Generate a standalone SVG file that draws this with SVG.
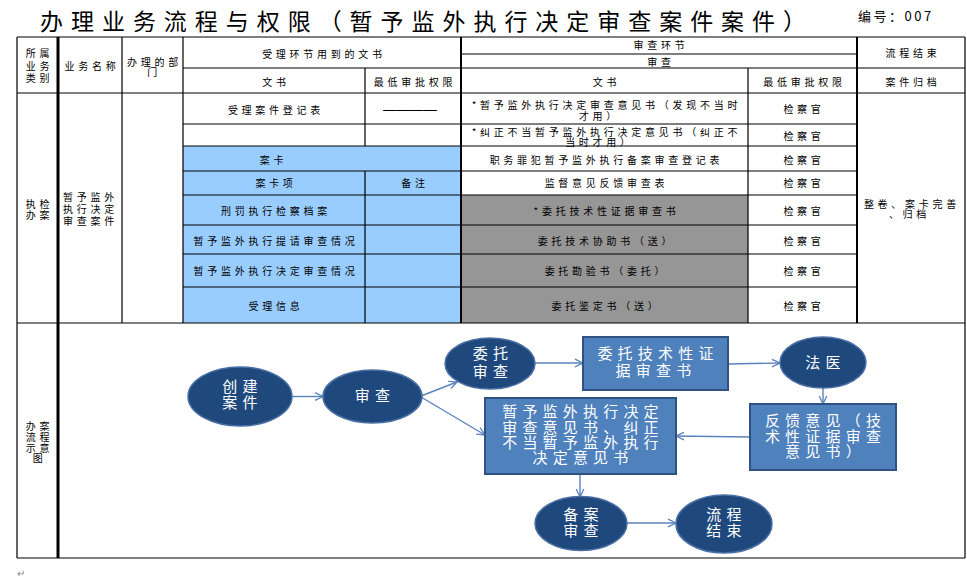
<svg xmlns="http://www.w3.org/2000/svg" width="967" height="583" viewBox="0 0 967 583">
<style>
text{font-family:"Noto Sans CJK SC","Noto Sans",sans-serif;}
.t{font-size:10px;letter-spacing:3.75px;text-anchor:middle;fill:#000;}
.tl{font-size:10px;letter-spacing:3.75px;fill:#000;}
.g{stroke:#000;stroke-width:1.2;fill:none;}
.gt{stroke:#000;stroke-width:2;fill:none;}
.gk{stroke:#000;stroke-width:3;fill:none;}
.el{fill:#1F497D;stroke:#4A6FA5;stroke-width:1.5;}
.bx{fill:#4F81BD;stroke:#2F5283;stroke-width:2;}
.w{font-size:15px;letter-spacing:5.2px;text-anchor:middle;fill:#fff;}
.cn{stroke:#5B82BC;stroke-width:1.4;fill:none;marker-end:url(#ah);}
</style>
<defs>
<marker id="ah" markerWidth="10" markerHeight="10" refX="9" refY="5" orient="auto" markerUnits="userSpaceOnUse">
<path d="M1,1.2 L9,5 L1,8.8" fill="none" stroke="#5B82BC" stroke-width="1.3"/>
</marker>
</defs>
<rect width="967" height="583" fill="#fff"/>

<g id="title">
<text x="40" y="30" font-size="23" textLength="766" lengthAdjust="spacing">办理业务流程与权限（暂予监外执行决定审查案件案件）</text>
<text x="858" y="21" font-size="13" letter-spacing="2.5">编号：007</text>
</g>

<g id="table">
<rect x="183" y="146" width="278" height="177" fill="#99CCFF"/>
<rect x="461" y="195" width="287" height="128" fill="#969696"/>
<path class="g" d="M17,37H965 M461,54H857 M183,68H965 M17,93H965 M183,124H857 M183,146H857 M183,171H857 M183,195H857 M183,225H857 M183,254H857 M183,287H857 M17,323H965 M17,558H965"/>
<path class="g" d="M17,37V558 M122,37V323 M183,37V323 M365,68V146 M365,171V323 M748,68V323 M965,37V558"/>
<path class="gt" d="M461,37V323 M857,37V323"/>
<path class="gk" d="M58,37V558"/>

<g id="header">
<text class="t" x="39.5" y="57">所属</text>
<text class="t" x="39.5" y="69.5">业务</text>
<text class="t" x="39.5" y="82">类别</text>
<text class="t" x="92" y="70">业务名称</text>
<text class="t" x="154.5" y="65.5">办理的部</text>
<text class="t" x="154" y="76">门</text>
<text class="t" x="324" y="58">受理环节用到的文书</text>
<text class="t" x="276" y="85.5">文书</text>
<text class="t" x="415" y="85.5">最低审批权限</text>
<text class="t" x="661" y="48.5">审查环节</text>
<text class="t" x="661" y="65.5">审查</text>
<text class="t" x="606.5" y="85.5">文书</text>
<text class="t" x="804.5" y="85.5">最低审批权限</text>
<text class="t" x="913" y="56.5">流程结束</text>
<text class="t" x="913" y="85.5">案件归档</text>
</g>

<g id="body">
<text class="t" x="39.5" y="208">执检</text>
<text class="t" x="39.5" y="219">办案</text>
<text class="tl" x="63" y="200.5">暂予监外</text>
<text class="tl" x="63" y="212.5">执行决定</text>
<text class="tl" x="63" y="224.5">审查案件</text>

<text class="t" x="276" y="113.5">受理案件登记表</text>
<text x="410" y="114" font-size="13.5" text-anchor="middle" style="font-family:'Liberation Sans',sans-serif">————</text>
<text class="t" x="606.5" y="108.5">*暂予监外执行决定审查意见书（发现不当时</text>
<text class="t" x="599.5" y="119.5">才用）</text>
<text class="t" x="606.5" y="136">*纠正不当暂予监外执行决定意见书（纠正不</text>
<text class="t" x="599.5" y="145.5">当时才用）</text>

<text class="t" x="273.5" y="163.5">案卡</text>
<text class="t" x="606.5" y="163.5">职务罪犯暂予监外执行备案审查登记表</text>
<text class="t" x="276" y="186.5">案卡项</text>
<text class="t" x="415" y="186.5">备注</text>
<text class="t" x="606.5" y="186.5">监督意见反馈审查表</text>
<text class="t" x="276" y="215">刑罚执行检察档案</text>
<text class="t" x="606.5" y="215">*委托技术性证据审查书</text>
<text class="t" x="276" y="244.5">暂予监外执行提请审查情况</text>
<text class="t" x="606.5" y="244.5">委托技术协助书（送）</text>
<text class="t" x="276" y="275">暂予监外执行决定审查情况</text>
<text class="t" x="606.5" y="275">委托勘验书（委托）</text>
<text class="t" x="276" y="309.5">受理信息</text>
<text class="t" x="606.5" y="309.5">委托鉴定书（送）</text>

<text class="t" x="804" y="113">检察官</text>
<text class="t" x="804" y="140">检察官</text>
<text class="t" x="804" y="163.5">检察官</text>
<text class="t" x="804" y="186.5">检察官</text>
<text class="t" x="804" y="215">检察官</text>
<text class="t" x="804" y="244.5">检察官</text>
<text class="t" x="804" y="275">检察官</text>
<text class="t" x="804" y="309.5">检察官</text>

<text class="t" x="912" y="207.5">整卷、案卡完善</text>
<text class="t" x="909.5" y="217.5">、归档</text>

<text class="t" x="39.5" y="429.5">办案</text>
<text class="t" x="39.5" y="440.5">流程</text>
<text class="t" x="39.5" y="451.5">示意</text>
<text class="t" x="39.5" y="462">图</text>
</g>
</g>

<g id="connectors">
<path class="cn" d="M292,396.5 L323,396.5"/>
<path class="cn" d="M421,396 L457,382"/>
<path class="cn" d="M421,397 L485,435"/>
<path class="cn" d="M535,363 L583,363"/>
<path class="cn" d="M728,364 L780,363"/>
<path class="cn" d="M823,388 L823,404"/>
<path class="cn" d="M750,437 L676,436"/>
<path class="cn" d="M580,474 L580,497"/>
<path class="cn" d="M627,523 L676,523"/>
</g>

<g id="n-create">
<ellipse class="el" cx="240" cy="396.5" rx="52" ry="29.5"/>
<text class="w" x="242.5" y="392">创建</text>
<text class="w" x="242.5" y="408">案件</text>
</g>
<g id="n-review">
<ellipse class="el" cx="372.5" cy="396.5" rx="49.5" ry="26.5"/>
<text class="w" x="375" y="400.5">审查</text>
</g>
<g id="n-entrust">
<ellipse class="el" cx="490" cy="363.5" rx="45" ry="25.5"/>
<text class="w" x="493" y="358.5">委托</text>
<text class="w" x="493" y="377">审查</text>
</g>
<g id="n-techdoc">
<rect class="bx" x="583" y="337" width="145" height="53"/>
<text class="w" x="658" y="358.5">委托技术性证</text>
<text class="w" x="656" y="375.5">据审查书</text>
</g>
<g id="n-forensic">
<ellipse class="el" cx="823" cy="362.5" rx="43" ry="25.5"/>
<text class="w" x="825.5" y="367.5">法医</text>
</g>
<g id="n-feedback">
<rect class="bx" x="750" y="404" width="146" height="66"/>
<text class="w" x="825.5" y="425.5">反馈意见（技</text>
<text class="w" x="825.5" y="441.5">术性证据审查</text>
<text class="w" x="825.5" y="456.5">意见书）</text>
</g>
<g id="n-opinion">
<rect class="bx" x="485" y="398" width="191" height="76"/>
<text class="w" x="583" y="417">暂予监外执行决定</text>
<text class="w" x="583" y="432.5">审查意见书、纠正</text>
<text class="w" x="583" y="448">不当暂予监外执行</text>
<text class="w" x="583" y="463">决定意见书</text>
</g>
<g id="n-filing">
<ellipse class="el" cx="581" cy="523.5" rx="46" ry="27"/>
<text class="w" x="583.5" y="519.5">备案</text>
<text class="w" x="583.5" y="535.5">审查</text>
</g>
<g id="n-end">
<ellipse class="el" cx="724" cy="524" rx="48" ry="29"/>
<text class="w" x="726.5" y="519.5">流程</text>
<text class="w" x="726.5" y="536">结束</text>
</g>

<text x="17" y="577" font-size="10" fill="#888">↵</text>
</svg>
